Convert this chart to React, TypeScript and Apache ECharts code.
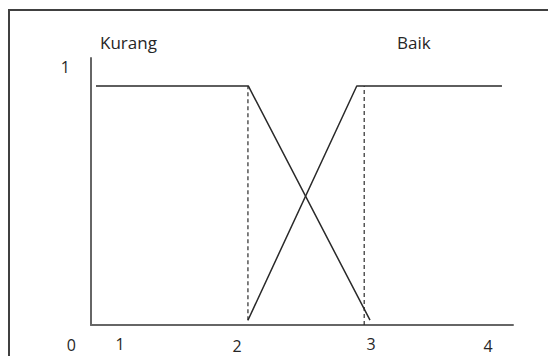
import React, { useEffect, useRef } from "react";
import * as echarts from "echarts";

// Sketch x-domain (diagram units, 2 and 3 are the dashed break points)
const xMin = 0.65;
const xMax = 4.28;
const yMin = 0;
const yMax = 1.117;

// Membership lines
const kurang: [number, number][] = [
  [0.693, 1],
  [2.003, 1],
  [3.05, 0.02],
];
const baik: [number, number][] = [
  [2.0, 0.02],
  [2.936, 1],
  [4.185, 1],
];
const dashLeft: [number, number][] = [
  [2.0, 0.02],
  [2.0, 1],
];
const dashRight: [number, number][] = [
  [3.0, 0.0],
  [3.0, 1],
];

// Tick labels (hand placed along the sketch axis)
const xTickValues = [0.9, 1.906, 3.059, 4.065];
const xTickLabels = ["1", "2", "3", "4"];
const xTickLow = [false, true, false, true];
const yTickValues = [0, 1.08];
const yTickLabels = ["0", "1"];

const setNames = ["Kurang", "Baik"];

export default function App() {
  const ref = useRef<HTMLDivElement>(null);
  useEffect(() => {
    if (!ref.current) return;
    const chart = echarts.init(ref.current, null, { renderer: "svg" });
    const font = "'Open Sans', sans-serif";
    const lineColor = "#2a2a2a";
    const axisColor = "#666666";
    const textColor = "#262626";
    chart.setOption({
      animation: false,
      backgroundColor: "#ffffff",
      grid: { left: 91, right: 35, top: 58, bottom: 31, containLabel: false },
      xAxis: {
        type: "value",
        min: xMin,
        max: xMax,
        axisLine: { show: true, onZero: false, lineStyle: { color: axisColor, width: 2 } },
        axisTick: { show: false },
        splitLine: { show: false },
        axisLabel: {
          customValues: xTickValues,
          margin: 12,
          color: textColor,
          fontFamily: font,
          fontSize: 16,
          lineHeight: 14,
          formatter: (v: number) => {
            const i = xTickValues.findIndex((t) => Math.abs(t - v) < 1e-6);
            if (i < 0) return "";
            return xTickLow[i] ? `{low|${xTickLabels[i]}}` : `{n|${xTickLabels[i]}}`;
          },
          rich: {
            n: { fontFamily: font, fontSize: 16, lineHeight: 14, color: textColor },
            low: { fontFamily: font, fontSize: 16, lineHeight: 14, color: textColor, padding: [3, 0, 0, 0] },
          },
        },
      },
      yAxis: {
        type: "value",
        min: yMin,
        max: yMax,
        axisLine: { show: true, onZero: false, lineStyle: { color: axisColor, width: 2 } },
        axisTick: { show: false },
        splitLine: { show: false },
        axisLabel: {
          customValues: yTickValues,
          margin: 15,
          color: textColor,
          fontFamily: font,
          fontSize: 16,
          formatter: (v: number) => {
            const i = yTickValues.findIndex((t) => Math.abs(t - v) < 1e-6);
            if (i < 0) return "";
            return i === 0 ? `{z|${yTickLabels[i]}}` : `{o|${yTickLabels[i]}}`;
          },
          rich: {
            z: { fontFamily: font, fontSize: 16, color: textColor, padding: [40, 0, 0, 0] },
            o: { fontFamily: font, fontSize: 16, color: textColor, padding: [0, 6, 0, 0] },
          },
        },
      },
      graphic: [
        {
          type: "rect",
          shape: { x: 9, y: 10, width: 700, height: 500 },
          style: { fill: "none", stroke: "#404040", lineWidth: 2 },
          silent: true,
        },
        {
          type: "text",
          x: 100,
          y: 42,
          style: {
            text: setNames[0],
            font: `17px ${font}`,
            fill: textColor,
            textAlign: "left",
            textVerticalAlign: "middle",
          },
        },
        {
          type: "text",
          x: 397,
          y: 42,
          style: {
            text: setNames[1],
            font: `17px ${font}`,
            fill: textColor,
            textAlign: "left",
            textVerticalAlign: "middle",
          },
        },
      ],
      series: [
        {
          name: setNames[0],
          type: "line",
          data: kurang,
          symbol: "none",
          lineStyle: { color: lineColor, width: 1.5 },
        },
        {
          name: setNames[1],
          type: "line",
          data: baik,
          symbol: "none",
          lineStyle: { color: lineColor, width: 1.5 },
        },
        {
          type: "line",
          data: dashLeft,
          symbol: "none",
          lineStyle: { color: lineColor, width: 1.2, type: [4, 3] },
        },
        {
          type: "line",
          data: dashRight,
          symbol: "none",
          lineStyle: { color: lineColor, width: 1.2, type: [4, 3] },
        },
      ],
    });
    return () => chart.dispose();
  }, []);
  return (
    <div
      ref={ref}
      style={{ position: "fixed", left: 0, top: 0, width: 548, height: 356, background: "#fff" }}
    />
  );
}
